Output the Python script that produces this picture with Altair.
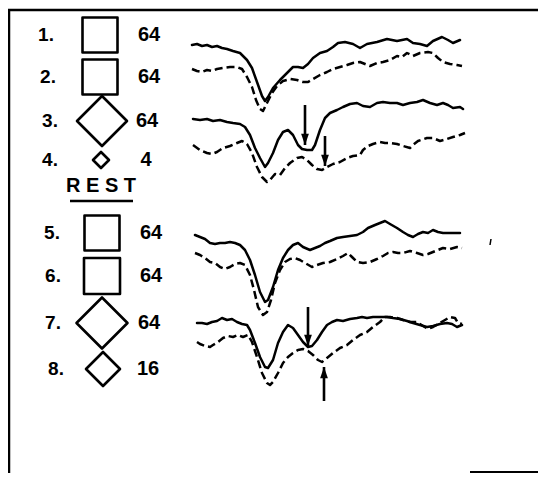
import altair as alt
import pandas as pd

# ---- traces (x = time position, y = response level) ----
T1_X = [192,197,202,207,212,217,222,227,233,240,247,252,257,262,265,268,273,280,287,293,298,303,308,313,320,327,333,338,345,353,360,367,377,387,397,407,413,420,427,433,442,448,453,460]
T1_Y = [45,44,46,45,47,46,48,49,51,53,60,68,82,96,101,97,88,80,73,67,67,68,64,58,53,51,47,43,42,44,48,44,42,39,41,39,43,44,46,41,37,40,43,40]

T2_X = [192,197,202,207,212,217,223,230,237,242,247,252,256,260,263,267,272,277,283,290,297,303,308,313,320,327,333,340,347,353,360,365,370,377,383,390,397,402,407,413,420,428,433,438,443,450,457,462]
T2_Y = [69,71,72,70,71,69,68,67,67,69,77,87,100,109,111,103,93,86,81,79,80,82,82,79,75,72,69,67,65,63,62,64,66,63,62,60,56,57,53,56,53,52,53,58,62,64,65,66]

T3_X = [193,200,207,213,220,227,233,240,245,250,255,260,265,268,273,278,283,288,293,298,302,307,312,315,320,325,330,337,343,350,357,363,370,377,383,390,397,403,410,417,423,430,437,443,448,453,460,463]
T3_Y = [119,120,119,121,120,122,123,124,127,135,148,158,167,163,153,140,132,130,135,145,149,150,150,145,130,118,113,110,107,104,103,106,107,103,102,103,103,105,103,102,100,103,105,103,105,108,107,109]

T4_X = [193,200,207,212,217,223,230,237,242,247,252,257,262,267,270,275,280,285,290,297,302,307,312,317,322,327,333,340,347,353,360,363,368,373,380,385,390,397,403,410,413,418,427,433,440,447,453,460,465]
T4_Y = [145,150,153,154,152,148,146,143,141,144,153,167,177,182,180,174,175,168,163,158,157,160,165,169,170,167,164,162,158,156,155,150,146,144,142,143,143,144,146,148,145,141,138,138,141,139,137,135,133]

T5_X = [195,200,205,210,215,220,225,230,235,240,245,250,255,260,265,268,273,278,283,288,293,298,303,310,315,320,325,330,337,343,350,357,363,368,375,380,385,390,397,403,408,413,418,423,428,433,438,443,450,455,460]
T5_Y = [235,237,239,243,244,243,243,242,243,245,250,260,275,292,302,300,287,270,258,250,245,243,247,250,248,246,243,241,238,237,236,235,232,228,225,223,221,224,228,232,235,237,234,232,233,230,232,233,233,233,233]

T6_X = [195,200,205,210,215,220,225,230,235,240,245,250,254,258,263,267,271,275,280,285,290,295,300,305,312,317,323,330,337,343,348,352,357,363,370,377,383,388,393,398,403,410,417,423,428,433,438,443,450,457,462]
T6_Y = [253,255,258,262,263,267,269,267,264,263,265,275,290,307,315,312,300,283,270,262,259,258,260,263,267,265,263,262,259,256,253,257,262,263,262,259,256,253,252,253,253,251,253,255,254,252,250,248,249,247,248]

T7_X = [197,202,207,212,217,222,227,232,237,242,247,250,255,260,265,268,273,278,283,288,293,298,303,308,312,317,322,327,332,337,343,350,357,362,367,373,380,387,393,400,407,413,420,427,433,440,447,452,457,462]
T7_Y = [323,323,324,322,321,318,320,319,322,324,325,330,343,357,367,368,360,343,332,325,328,335,342,347,346,340,332,325,322,320,321,319,318,317,318,317,317,317,318,319,321,323,325,327,326,324,323,324,327,325]

T8_X = [197,200,205,210,213,218,223,228,233,238,243,248,252,257,262,267,270,273,278,283,288,293,298,303,308,313,318,322,327,333,340,347,353,360,367,373,380,385,390,397,403,410,417,423,428,433,440,445,450,455,458,462]
T8_Y = [342,344,346,347,345,342,338,336,337,335,337,335,342,357,373,383,385,382,373,363,357,353,350,349,351,355,360,362,358,353,348,345,340,335,332,327,322,317,317,318,320,322,322,326,329,327,323,320,317,318,323,324]

TRACES = [
    ("1", "solid", T1_X, T1_Y), ("2", "dashed", T2_X, T2_Y),
    ("3", "solid", T3_X, T3_Y), ("4", "dashed", T4_X, T4_Y),
    ("5", "solid", T5_X, T5_Y), ("6", "dashed", T6_X, T6_Y),
    ("7", "solid", T7_X, T7_Y), ("8", "dashed", T8_X, T8_Y),
]

# ---- arrows marking the second response ----
ARROW_X = [305, 325, 308, 324]
ARROW_TAIL = [105, 136, 307, 401]
ARROW_TIP = [145, 166, 346, 367]
ARROW_DIR = ["down", "down", "down", "up"]

# ---- left-hand key: trial number, stimulus shape, stimulus size ----
ROW_LABELS = ["1.", "2.", "3.", "4.", "5.", "6.", "7.", "8."]
ROW_LABEL_X = [46, 48, 50, 50, 52, 53, 53, 56]
ROW_Y = [35, 77, 121, 160, 233, 276, 323, 369]
STIM_SHAPE = ["square", "square", "diamond", "diamond", "square", "square", "diamond", "diamond"]
STIM_X = [100, 100, 102, 101, 102, 102, 102, 103]
STIM_SIDE = [35, 35, 50, 16, 35, 36, 51, 34]
STIM_VALUE = ["64", "64", "64", "4", "64", "64", "64", "16"]
VALUE_X = [149, 149, 147, 146, 151, 151, 149, 148]
REST_LABEL = "R E S T"

rows = []
for name, style, xs, ys in TRACES:
    for i, (x, y) in enumerate(zip(xs, ys)):
        rows.append({"trace": name, "style": style, "x": x, "y": y, "i": i})
traces = pd.DataFrame(rows)

X = alt.Scale(domain=[8, 538])
Y = alt.Scale(domain=[8, 473], reverse=True)

def xy(xf="x", yf="y"):
    return dict(x=alt.X(f"{xf}:Q", scale=X, axis=None), y=alt.Y(f"{yf}:Q", scale=Y, axis=None))

solid = alt.Chart(traces[traces["style"] == "solid"]).mark_line(
    color="black", strokeWidth=2.5, strokeJoin="round", strokeCap="round"
).encode(**xy(), detail="trace:N", order="i:Q")

dashed = alt.Chart(traces[traces["style"] == "dashed"]).mark_line(
    color="black", strokeWidth=2.5, strokeDash=[8, 4], strokeJoin="round"
).encode(**xy(), detail="trace:N", order="i:Q")

arrows = pd.DataFrame({"x": ARROW_X, "tail": ARROW_TAIL, "tip": ARROW_TIP, "dir": ARROW_DIR})
shafts = alt.Chart(arrows).mark_rule(color="black", strokeWidth=2.6).encode(
    x=alt.X("x:Q", scale=X, axis=None), y=alt.Y("tail:Q", scale=Y, axis=None), y2="tip:Q"
)
head_down = alt.Chart(arrows[arrows["dir"] == "down"]).mark_point(
    shape="M0,0L-0.55,-1.6L0.55,-1.6Z", filled=True, color="black", opacity=1, size=200
).encode(x=alt.X("x:Q", scale=X, axis=None), y=alt.Y("tip:Q", scale=Y, axis=None))
head_up = alt.Chart(arrows[arrows["dir"] == "up"]).mark_point(
    shape="M0,0L-0.55,1.6L0.55,1.6Z", filled=True, color="black", opacity=1, size=200
).encode(x=alt.X("x:Q", scale=X, axis=None), y=alt.Y("tip:Q", scale=Y, axis=None))

key = pd.DataFrame({
    "label": ROW_LABELS, "lx": ROW_LABEL_X, "y": ROW_Y, "shape": STIM_SHAPE,
    "sx": STIM_X, "area": [s * s for s in STIM_SIDE], "value": STIM_VALUE, "vx": VALUE_X,
})

num_text = alt.Chart(key).mark_text(
    font="Liberation Sans", fontWeight="bold", fontSize=19, color="black", align="center", baseline="middle"
).encode(x=alt.X("lx:Q", scale=X, axis=None), y=alt.Y("y:Q", scale=Y, axis=None), text="label:N")

val_text = alt.Chart(key).mark_text(
    font="Liberation Sans", fontWeight="bold", fontSize=20, color="black", align="center", baseline="middle"
).encode(x=alt.X("vx:Q", scale=X, axis=None), y=alt.Y("y:Q", scale=Y, axis=None), text="value:N")

stims = alt.Chart(key).mark_point(
    filled=False, color="black", strokeWidth=2.6, opacity=1, strokeJoin="round"
).encode(
    x=alt.X("sx:Q", scale=X, axis=None), y=alt.Y("y:Q", scale=Y, axis=None),
    shape=alt.Shape("shape:N", scale=None), size=alt.Size("area:Q", scale=None),
)

rest = pd.DataFrame({"label": [REST_LABEL], "x": [101], "y": [186], "x1": [70], "x2": [133], "uy": [201]})
rest_text = alt.Chart(rest).mark_text(
    font="Liberation Sans", fontWeight="bold", fontSize=20, color="black", align="center", baseline="middle"
).encode(x=alt.X("x:Q", scale=X, axis=None), y=alt.Y("y:Q", scale=Y, axis=None), text="label:N")
rest_line = alt.Chart(rest).mark_rule(color="black", strokeWidth=2.5).encode(
    x=alt.X("x1:Q", scale=X, axis=None), x2="x2:Q", y=alt.Y("uy:Q", scale=Y, axis=None)
)

# ---- frame of the original figure ----
frame = pd.DataFrame({
    "x1": [9, 8, 470, 491], "x2": [9, 538, 538, 490],
    "y1": [9, 10, 472, 239], "y2": [473, 10, 472, 245], "w": [2.5, 2.5, 2.0, 1.5],
})
frame_rules = alt.Chart(frame).mark_rule(color="black").encode(
    x=alt.X("x1:Q", scale=X, axis=None), x2="x2:Q",
    y=alt.Y("y1:Q", scale=Y, axis=None), y2="y2:Q",
    strokeWidth=alt.StrokeWidth("w:Q", scale=None),
)

chart = alt.layer(
    frame_rules, solid, dashed, shafts, head_down, head_up,
    stims, num_text, val_text, rest_text, rest_line,
).properties(
    width=530, height=465, padding=0, autosize=alt.AutoSizeParams(type="none"), background="white"
).configure_view(stroke=None)

chart.save("out.html", embed_options={"renderer": "svg", "actions": False})
